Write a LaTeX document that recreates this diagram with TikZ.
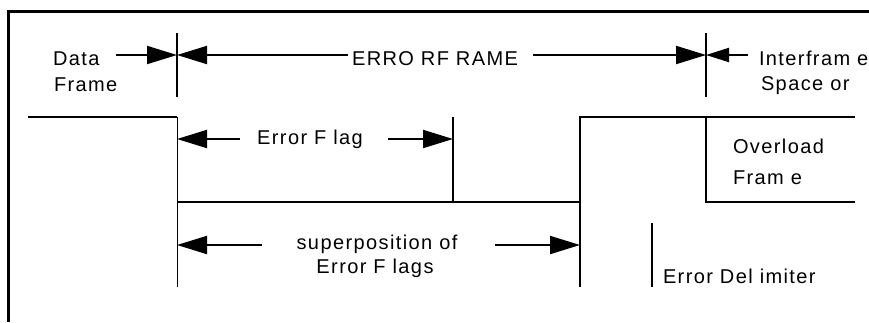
\documentclass[tikz,border=0pt]{standalone}
\usepackage{fontspec}
\setmainfont{Liberation Sans}[LetterSpace=7]
\usetikzlibrary{arrows.meta,calc}

\begin{document}
\begin{tikzpicture}[x=1pt,y=-1pt,line width=2pt,
	every node/.style={font=\fontsize{20}{24}\selectfont,inner sep=0pt},
	dim/.style={line width=2pt,-{Triangle[length=30pt,width=18pt]}},
	dimsmall/.style={line width=2pt,-{Triangle[length=23pt,width=14pt]}}]
	\useasboundingbox (0,0) rectangle (869,322);
	% frame
	\draw[line width=3pt] (8,322) -- (8,11) -- (869,11);
	% frame limits
	\coordinate (mA) at (177,55);
	\coordinate (mB) at (706,55);
	\draw (177,33) -- (177,97);
	\draw (706,33) -- (706,97);
	% data frame
	\node[anchor=base west] (data) at (52,65) {Data};
	\node[anchor=base west] (dataframe) at (53,91) {Frame};
	\draw[dim] ([xshift=16pt]data.east |- mA) -- (mA);
	% error frame
	\node[anchor=base] (errframe) at (435,65) {ERRO RF RAME};
	\draw[dim] ([xshift=-3pt]errframe.west |- mA) -- (mA);
	\draw[dim] ([xshift=14pt]errframe.east |- mB) -- (mB);
	% interframe space
	\node[anchor=base west] (interframe) at (758,65) {Interfram e};
	\node[anchor=base west] (space) at (760,90) {Space or};
	\draw[dimsmall] ([xshift=-10pt]interframe.west |- mB) -- (mB);
	% bus level
	\draw (28,117) -- (177,117);
	\draw[line width=1pt] (177,117) -- (177,287);
	\draw (177,202) -- (580,202);
	\draw[line width=1.3pt] (453,117) -- (453,202);
	\draw[line width=2.5pt] (580,287) -- (580,117) -- (855,117);
	\draw[line width=1.6pt] (706,117) -- (706,202) -- (855,202);
	% error flag
	\coordinate (fA) at (177,139);
	\coordinate (fB) at (453,139);
	\node[anchor=base] (errflag) at (310,144) {Error F lag};
	\draw[dim] ($(errflag.west |- fA)+(-16,0)$) -- (fA);
	\draw[dim] ($(errflag.east |- fB)+(24,0)$) -- (fB);
	% superposition
	\coordinate (sA) at (177,245);
	\coordinate (sB) at (580,245);
	\node[anchor=base] (superpos) at (377,249) {superposition of};
	\node[anchor=base] (superflags) at (375,273) {Error F lags};
	\draw[dim] ($(superpos.west |- sA)+(-34,0)$) -- (sA);
	\draw[dim] ($(superpos.east |- sB)+(37,0)$) -- (sB);
	% overload frame
	\node[anchor=base west] (overload) at (732,153) {Overload};
	\node[anchor=base west] (overframe) at (732,184) {Fram e};
	% error delimiter
	\draw (652,223) -- (652,287);
	\node[anchor=base west] (delim) at (662,283) {Error Del imiter};
\end{tikzpicture}
\end{document}
